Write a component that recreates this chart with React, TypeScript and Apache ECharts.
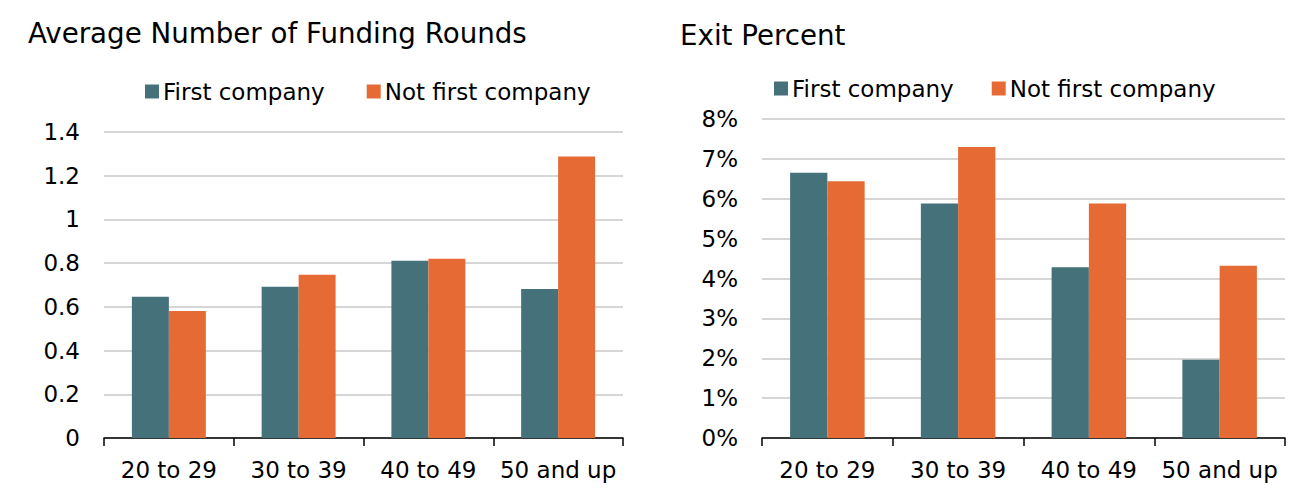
import { useEffect, useRef } from "react";
import * as echarts from "echarts";

const ageGroups = ["20 to 29", "30 to 39", "40 to 49", "50 and up"];
const seriesNames = ["First company", "Not first company"];

// average number of funding rounds
const roundsFirst = [0.646, 0.692, 0.811, 0.682];
const roundsNotFirst = [0.581, 0.747, 0.82, 1.288];

// exit percent
const exitFirst = [6.65, 5.88, 4.28, 1.96];
const exitNotFirst = [6.44, 7.3, 5.88, 4.32];

const TEAL = "#45717A";
const ORANGE = "#E56A33";
const FONT = "DejaVu Sans";

export default function App() {
  const ref = useRef<HTMLDivElement>(null);

  useEffect(() => {
    if (!ref.current) return;
    const chart = echarts.init(ref.current, undefined, { renderer: "svg" });

    const catAxis = (gridIndex: number) => ({
      type: "category" as const,
      gridIndex,
      data: ageGroups,
      axisLine: { lineStyle: { color: "#000", width: 1.5 } },
      axisTick: { show: true, interval: 0, length: 8, lineStyle: { color: "#000", width: 1.5 } },
      axisLabel: { interval: 0, color: "#000", fontSize: 23, fontFamily: FONT, margin: 20 },
    });

    const valAxisBase = {
      type: "value" as const,
      axisLine: { show: false },
      axisTick: { show: false },
      splitLine: { lineStyle: { color: "#c8c8c8", width: 1.5 } },
    };

    const bar = (name: string, data: number[], idx: number, color: string) => ({
      name,
      type: "bar" as const,
      xAxisIndex: idx,
      yAxisIndex: idx,
      data,
      barGap: "0%",
      barCategoryGap: "43%",
      itemStyle: { color },
    });

    const titleStyle = { fontSize: 27.7, fontWeight: "normal" as const, color: "#000", fontFamily: FONT };
    const legendText = { fontSize: 23, color: "#000", fontFamily: FONT, padding: [0, 0, 0, -1] };

    chart.setOption({
      animation: false,
      title: [
        { text: "Average Number of Funding Rounds", left: 23, top: 14, textStyle: titleStyle },
        { text: "Exit Percent", left: 675, top: 16, textStyle: titleStyle },
      ],
      legend: [
        {
          data: seriesNames,
          left: 140,
          top: 75,
          itemWidth: 14,
          itemHeight: 14,
          itemGap: 42,
          icon: "rect",
          textStyle: legendText,
        },
        {
          data: seriesNames,
          left: 769,
          top: 72,
          itemWidth: 14,
          itemHeight: 14,
          itemGap: 38,
          icon: "rect",
          textStyle: legendText,
        },
      ],
      grid: [
        { left: 104, top: 132, width: 519, height: 306 },
        { left: 762, top: 119, width: 523, height: 319 },
      ],
      xAxis: [catAxis(0), catAxis(1)],
      yAxis: [
        {
          ...valAxisBase,
          gridIndex: 0,
          min: 0,
          max: 1.4,
          interval: 0.2,
          axisLabel: { color: "#000", fontSize: 23, fontFamily: FONT, margin: 24 },
        },
        {
          ...valAxisBase,
          gridIndex: 1,
          min: 0,
          max: 8,
          interval: 1,
          axisLabel: {
            color: "#000",
            fontSize: 23,
            fontFamily: FONT,
            margin: 24,
            formatter: (v: number) => `${v}%`,
          },
        },
      ],
      series: [
        bar(seriesNames[0], roundsFirst, 0, TEAL),
        bar(seriesNames[1], roundsNotFirst, 0, ORANGE),
        bar(seriesNames[0], exitFirst, 1, TEAL),
        bar(seriesNames[1], exitNotFirst, 1, ORANGE),
      ],
    });

    return () => chart.dispose();
  }, []);

  return (
    <div
      ref={ref}
      style={{ position: "fixed", left: 0, top: 0, width: 1300, height: 498, background: "#fff" }}
    />
  );
}
